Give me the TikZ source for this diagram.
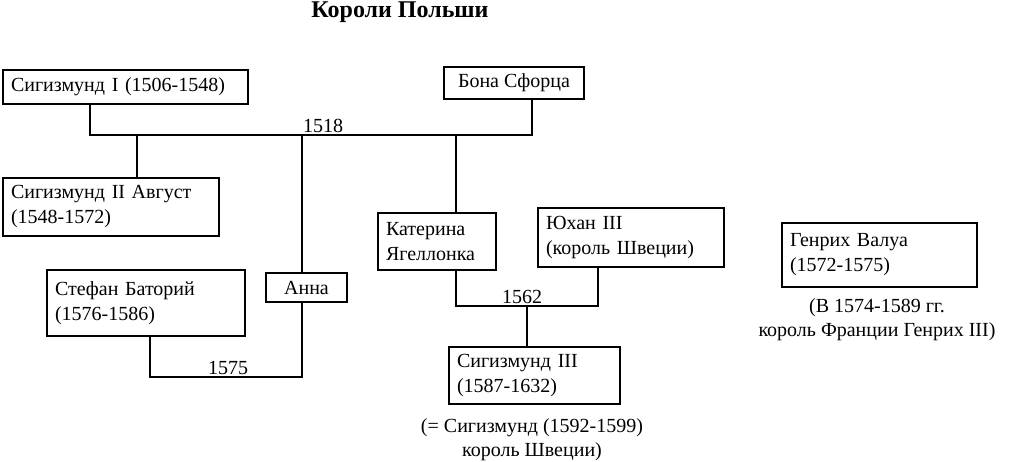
\documentclass[tikz,border=0pt]{standalone}
\usepackage{fontspec}
\setmainfont{Liberation Serif}
\begin{document}
\begin{tikzpicture}[x=0.5pt,y=-0.5pt,
  box/.style={draw,line width=0.6pt,inner xsep=4pt,inner ysep=0pt,align=left,font=\fontsize{10}{12.5}\selectfont},
  king/.style={box,line width=1.3pt},
  lab/.style={font=\fontsize{10}{12}\selectfont,inner sep=1pt},
  ln/.style={line width=0.6pt}]
\useasboundingbox (0,0) rectangle (1010,461);
\node[font=\bfseries\fontsize{12}{14}\selectfont] (title) at (400,12) {Короли Польши};
\node[king,text width=229pt*0.5,minimum height=17pt] (s1) at (125.5,87) {Сигизмунд I (1506-1548)};
\node[box,minimum width=70pt,minimum height=16pt,align=center] (bona) at (514,83) {Бона Сфорца};
\node[king,text width=200pt*0.5,minimum height=29pt] (s2) at (111,207) {Сигизмунд II Август\\(1548-1572)};
\node[king,text width=182pt*0.5,minimum height=33pt] (sb) at (146,303) {Стефан Баторий\\(1576-1586)};
\node[box,minimum width=40.5pt,minimum height=14.5pt,align=center] (anna) at (306.5,287.5) {Анна};
\node[box,text width=102pt*0.5,minimum height=28.5pt] (kat) at (437,241.5) {Катерина\\Ягеллонка};
\node[box,text width=170pt*0.5,minimum height=29.5pt] (joh) at (631,237.5) {Юхан III\\(король Швеции)};
\node[king,text width=155pt*0.5,minimum height=28.5pt] (s3) at (534.5,375.5) {Сигизмунд III\\(1587-1632)};
\node[king,text width=179pt*0.5,minimum height=32pt] (hv) at (879.5,255) {Генрих Валуа\\(1572-1575)};
\node[lab,align=center] (n3) at (532,440) {(= Сигизмунд (1592-1599)\\король Швеции)};
\node[lab,align=center] (nh) at (877,320) {(В 1574-1589 гг.\\король Франции Генрих III)};
\coordinate (a1) at (90,135); \coordinate (a2) at (532,135);
\coordinate (d1) at (137,135); \coordinate (d2) at (302,135); \coordinate (d3) at (456,135);
\draw[ln] (s1.south -| a1) -- (a1) -- (a2) -- (bona.south -| a2);
\draw[ln] (d1) -- (s2.north -| d1);
\draw[ln] (d2) -- (anna.north -| d2);
\draw[ln] (d3) -- (kat.north -| d3);
\node[lab,above] (l1518) at (323,135) {1518};
\coordinate (b1) at (150,377); \coordinate (b2) at (302,377);
\draw[ln] (sb.south -| b1) -- (b1) -- (b2) -- (anna.south -| b2);
\node[lab,above] (l1575) at (228,377) {1575};
\coordinate (c1) at (456,306); \coordinate (c2) at (598,306); \coordinate (c3) at (527,306);
\draw[ln] (kat.south -| c1) -- (c1) -- (c2) -- (joh.south -| c2);
\draw[ln] (c3) -- (s3.north -| c3);
\node[lab,above] (l1562) at (522,306) {1562};
\end{tikzpicture}
\end{document}
